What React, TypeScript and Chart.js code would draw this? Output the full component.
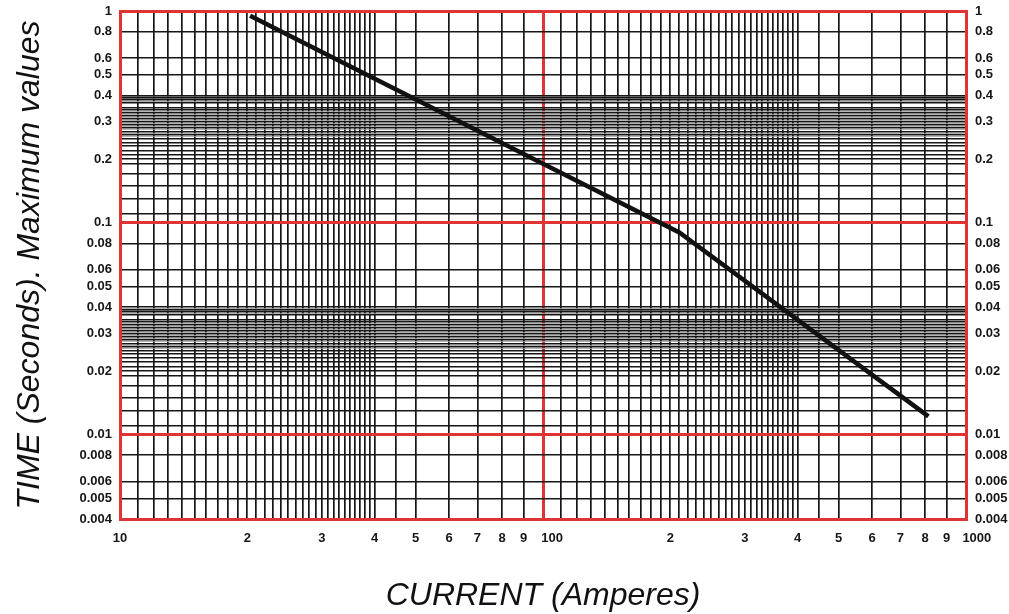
import React, { useEffect, useRef } from 'react';
import { Chart, registerables } from 'chart.js';

Chart.register(...registerables);

// ---- Data ----
const CURRENT_A = [20.3, 100, 210, 815];
const TIME_S = [0.95, 0.19, 0.09, 0.0122];

// ---- Axis ranges ----
const X_MIN = 10;
const X_MAX = 1000;
const Y_MIN = 0.004;
const Y_MAX = 1;

// ---- Grid (graph-paper) definitions ----
const X_DECADES = [10, 100];
const X_GRID_MANTISSAS = [
  1, 1.1, 1.2, 1.3, 1.4, 1.5, 1.6, 1.7, 1.8, 1.9, 2, 2.1, 2.2, 2.3, 2.4, 2.5, 2.6, 2.7, 2.8, 2.9,
  3, 3.1, 3.2, 3.3, 3.4, 3.5, 3.6, 3.7, 3.8, 3.9, 4, 4.5, 5, 6, 7, 8, 9,
];
const Y_DECADES = [0.001, 0.01, 0.1];
const Y_GRID_MANTISSAS = [
  1, 1.1, 1.3, 1.5, 1.7, 1.9, 2, 2.1, 2.2, 2.3, 2.4, 2.5, 2.6, 2.7, 2.8, 2.9, 3, 3.1, 3.2, 3.3,
  3.4, 3.5, 3.7, 3.8, 3.9, 4, 5, 6, 8,
];
const Y_FINE_MANTISSAS = [2.55, 2.65, 2.75, 2.85, 2.95, 3.05, 3.15, 3.25, 3.35, 3.75, 3.85, 3.95];

// ---- Tick labels ----
const X_LABEL_VALUES = [10, 20, 30, 40, 50, 60, 70, 80, 90, 100, 200, 300, 400, 500, 600, 700, 800, 900, 1000];
const X_LABEL_TEXTS = ['10', '2', '3', '4', '5', '6', '7', '8', '9', '     100', '2', '3', '4', '5', '6', '7', '8', '9', '      1000'];
const Y_LABEL_VALUES = [1, 0.8, 0.6, 0.5, 0.4, 0.3, 0.2, 0.1, 0.08, 0.06, 0.05, 0.04, 0.03, 0.02, 0.01, 0.008, 0.006, 0.005, 0.004];
const Y_LABEL_TEXTS = ['1', '0.8', '0.6', '0.5', '0.4', '0.3', '0.2', '0.1', '0.08', '0.06', '0.05', '0.04', '0.03', '0.02', '0.01', '0.008', '0.006', '0.005', '0.004'];

const RED_X = [10, 100, 1000];
const RED_Y = [1, 0.1, 0.01, 0.004];

const RED = '#e03434';
const INK = '#161616';
const FINE = '#a0a0a0';

const r = (v: number) => parseFloat(Number(v).toPrecision(8));

function buildGrid(decades: number[], mantissas: number[], min: number, max: number): number[] {
  const set = new Set<number>();
  decades.forEach((d) => mantissas.forEach((m) => {
    const v = r(m * d);
    if (v >= min - 1e-12 && v <= max + 1e-12) set.add(v);
  }));
  set.add(r(min));
  set.add(r(max));
  return Array.from(set).sort((a, b) => a - b);
}

const X_GRID = buildGrid(X_DECADES, X_GRID_MANTISSAS, X_MIN, X_MAX);
const Y_FINE = buildGrid(Y_DECADES, Y_FINE_MANTISSAS, Y_MIN, Y_MAX).filter(
  (v) => v !== r(Y_MIN) && v !== r(Y_MAX)
);
const Y_GRID = Array.from(new Set([...buildGrid(Y_DECADES, Y_GRID_MANTISSAS, Y_MIN, Y_MAX), ...Y_FINE])).sort(
  (a, b) => a - b
);

const xLabelMap = new Map<number, string>(X_LABEL_VALUES.map((v, i) => [r(v), X_LABEL_TEXTS[i]]));
const yLabelMap = new Map<number, string>(Y_LABEL_VALUES.map((v, i) => [r(v), Y_LABEL_TEXTS[i]]));
const redX = new Set(RED_X.map(r));
const redY = new Set(RED_Y.map(r));
const fineY = new Set(Y_FINE.map(r));

const clearPad = (s: any) => {
  s.paddingTop = 0;
  s.paddingBottom = 0;
  s.paddingLeft = 0;
  s.paddingRight = 0;
};

export default function App() {
  const ref = useRef<HTMLCanvasElement>(null);

  useEffect(() => {
    const canvas = ref.current;
    if (!canvas) return;
    const family = "'Liberation Sans', Arial, Helvetica, sans-serif";
    const tickFont = { family, size: 13, weight: 'bold' as const };
    const titleFont = { family, size: 32, style: 'italic' as const, weight: 'normal' as const, lineHeight: 1.125 };

    const chart = new Chart(canvas, {
      type: 'line',
      data: {
        datasets: [
          {
            data: CURRENT_A.map((x, i) => ({ x, y: TIME_S[i] })),
            borderColor: '#111111',
            borderWidth: 4.5,
            pointRadius: 0,
            fill: false,
            tension: 0,
            xAxisID: 'x',
            yAxisID: 'y',
          },
        ],
      },
      options: {
        animation: false,
        responsive: true,
        maintainAspectRatio: false,
        layout: { padding: { top: 11, left: 0, right: 0, bottom: 0 } },
        plugins: { legend: { display: false }, tooltip: { enabled: false } },
        scales: {
          x: {
            type: 'logarithmic',
            position: 'bottom',
            min: X_MIN,
            max: X_MAX,
            afterBuildTicks: (s: any) => {
              s.ticks = X_GRID.map((v) => ({ value: v }));
            },
            afterFit: (s: any) => {
              s.height = 95;
              clearPad(s);
            },
            ticks: {
              autoSkip: false,
              maxRotation: 0,
              minRotation: 0,
              padding: 12,
              color: INK,
              font: tickFont,
              callback: (v: any) => xLabelMap.get(r(Number(v))) ?? '',
            },
            grid: {
              drawTicks: false,
              color: (ctx: any) => (redX.has(r(ctx.tick?.value)) ? RED : INK),
              lineWidth: (ctx: any) => (redX.has(r(ctx.tick?.value)) ? 3 : 1.7),
            },
            border: { display: true, color: RED, width: 3 },
            title: {
              display: true,
              text: 'CURRENT (Amperes)',
              color: '#111111',
              font: titleFont,
              padding: { top: 0, bottom: 0 },
            },
          },
          y: {
            type: 'logarithmic',
            position: 'left',
            min: Y_MIN,
            max: Y_MAX,
            afterBuildTicks: (s: any) => {
              s.ticks = Y_GRID.map((v) => ({ value: v }));
            },
            afterFit: (s: any) => {
              s.width = 120;
              clearPad(s);
            },
            ticks: {
              autoSkip: false,
              padding: 8,
              color: INK,
              font: tickFont,
              callback: (v: any) => yLabelMap.get(r(Number(v))) ?? '',
            },
            grid: {
              drawTicks: false,
              color: (ctx: any) => {
                const v = r(ctx.tick?.value);
                if (redY.has(v)) return RED;
                if (fineY.has(v)) return FINE;
                return INK;
              },
              lineWidth: (ctx: any) => {
                const v = r(ctx.tick?.value);
                if (redY.has(v)) return 3;
                if (fineY.has(v)) return 0.8;
                return 1.6;
              },
            },
            border: { display: true, color: RED, width: 3 },
            title: {
              display: true,
              text: 'TIME (Seconds). Maximum values',
              color: '#111111',
              font: titleFont,
              padding: { top: 12, bottom: 0 },
            },
          },
          y2: {
            type: 'logarithmic',
            position: 'right',
            min: Y_MIN,
            max: Y_MAX,
            afterBuildTicks: (s: any) => {
              s.ticks = Y_LABEL_VALUES.map((v) => ({ value: v }));
            },
            afterFit: (s: any) => {
              s.width = 43;
              clearPad(s);
            },
            ticks: {
              autoSkip: false,
              padding: 9,
              color: INK,
              font: tickFont,
              callback: (v: any) => yLabelMap.get(r(Number(v))) ?? '',
            },
            grid: { display: false, drawTicks: false },
            border: { display: true, color: RED, width: 3 },
          },
        },
      },
    } as any);

    return () => chart.destroy();
  }, []);

  return (
    <div style={{ position: 'fixed', left: 0, top: 0, width: 1009, height: 614, background: '#ffffff' }}>
      <canvas ref={ref} />
    </div>
  );
}
